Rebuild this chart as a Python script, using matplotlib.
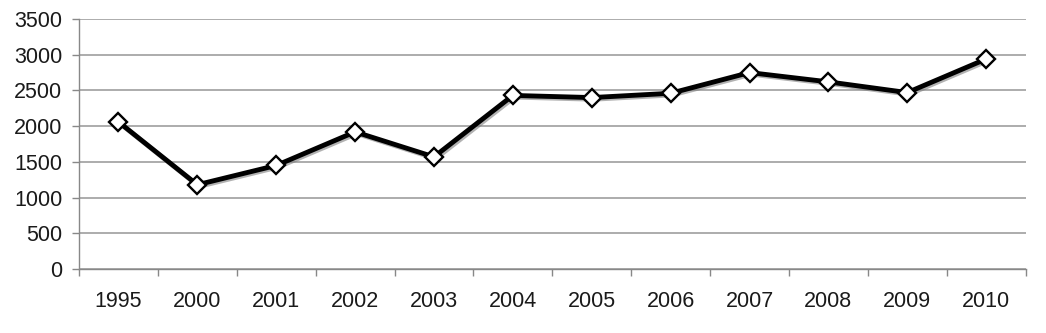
# Recreate the line chart of yearly values
import matplotlib.pyplot as plt
import matplotlib.patheffects as pe

# Data
years = ['1995', '2000', '2001', '2002', '2003', '2004',
         '2005', '2006', '2007', '2008', '2009', '2010']
values = [2060, 1180, 1450, 1920, 1570, 2430,
          2400, 2460, 2750, 2620, 2470, 2940]
yTicks = [0, 500, 1000, 1500, 2000, 2500, 3000, 3500]

plt.rcParams['font.family'] = ['Liberation Sans', 'DejaVu Sans']

fig = plt.figure(figsize=(10.46, 3.33), dpi=100)
ax = fig.add_axes([0.0755, 0.192, 0.905, 0.751])

xs = list(range(len(years)))

# Thick black line with a faint shadow, white diamond markers
ax.plot(xs, values, color='black', linewidth=3.5, zorder=3,
        path_effects=[pe.SimpleLineShadow(offset=(1.2, -1.2), shadow_color='gray', alpha=0.6),
                      pe.Normal()])
ax.plot(xs, values, linestyle='none', marker='D', markersize=9.5,
        markerfacecolor='white', markeredgecolor='black',
        markeredgewidth=1.7, zorder=4)

ax.set_xlim(-0.5, len(years) - 0.5)
ax.set_ylim(0, 3500)
ax.set_yticks(yTicks)
ax.set_yticklabels([str(v) for v in yTicks])
ax.yaxis.grid(True, color='#a6a6a6', linewidth=1.3)
ax.set_axisbelow(True)

# Category labels centred, tick marks at the boundaries
ax.set_xticks(xs)
ax.set_xticklabels(years)
ax.set_xticks([x - 0.5 for x in xs] + [len(years) - 0.5], minor=True)
ax.tick_params(axis='x', which='major', length=0, pad=16, labelsize=15.5, labelcolor='#1a1a1a')
ax.tick_params(axis='x', which='minor', length=5, color='#888888', width=1)
ax.tick_params(axis='y', length=5, color='#888888', width=1, labelsize=15.5,
               pad=7, labelcolor='#1a1a1a')

for side in ['top', 'right']:
    ax.spines[side].set_visible(False)
ax.spines['left'].set_color('#888888')
ax.spines['bottom'].set_color('#888888')
ax.spines['left'].set_linewidth(1)
ax.spines['bottom'].set_linewidth(1)

plt.savefig('out.png', dpi=100)
